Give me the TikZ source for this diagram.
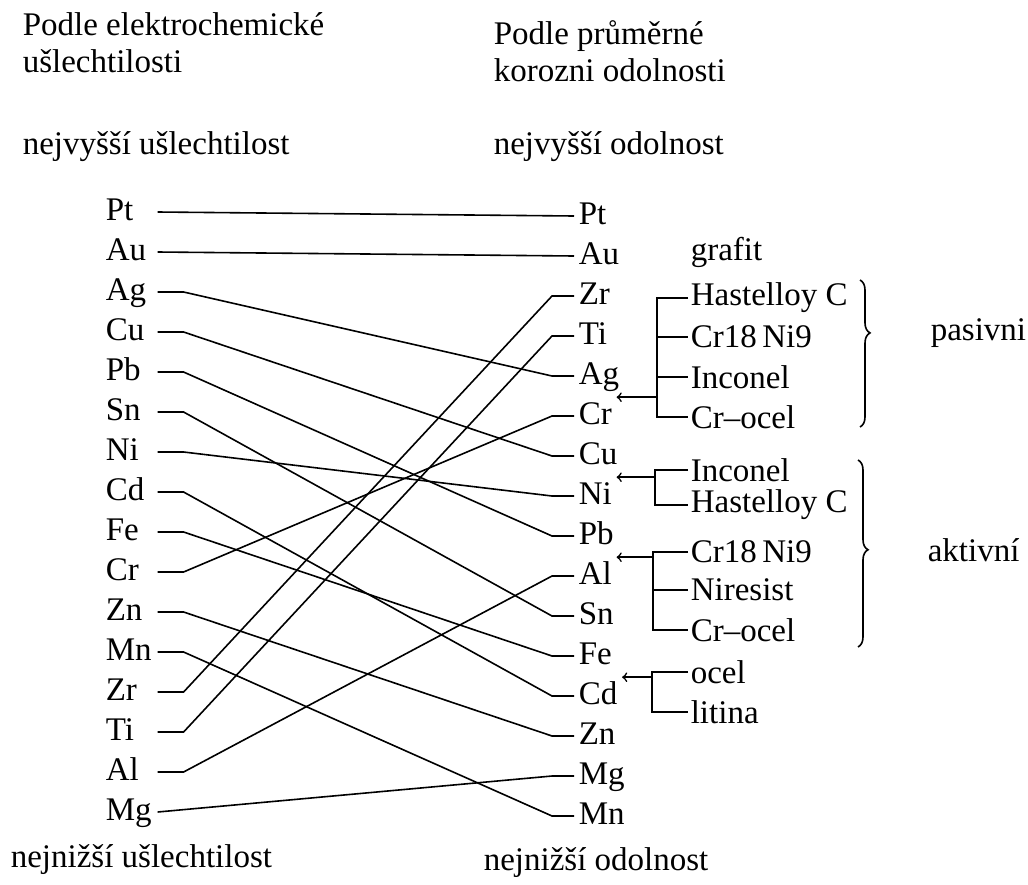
\documentclass[tikz,border=0pt]{standalone}
\usepackage{fontspec}
\setmainfont{Liberation Serif}
\usetikzlibrary{decorations.pathreplacing}
\begin{document}
\begin{tikzpicture}[x=0.5pt,y=-0.5pt,line width=0.8pt,
    every node/.style={font=\fontsize{16.5pt}{18.5pt}\selectfont},
    lmetal/.style={anchor=west,inner xsep=0pt,text width=25.5pt,text height=11pt,text depth=3pt},
    rmetal/.style={anchor=west,inner xsep=2pt,inner ysep=2pt,text height=11pt,text depth=3pt},
    alloy/.style={anchor=west,inner sep=1pt},
    heading/.style={anchor=west,align=left,inner sep=0pt},
    bracket/.style={decorate,decoration={brace,amplitude=5pt,aspect=#1}}]
    \useasboundingbox (0,0) rectangle (1028,884);
    \node[heading] (hl) at (22,43) {Podle elektrochemické\\ušlechtilosti};
    \node[heading] (hr) at (493,51) {Podle průměrné\\korozni odolnosti};
    \node[heading] (tl) at (22,147) {nejvyšší ušlechtilost};
    \node[heading] (tr) at (493,147) {nejvyšší odolnost};
    \node[heading] (bl) at (10,860) {nejnižší ušlechtilost};
    \node[heading] (br) at (483,863) {nejnižší odolnost};
    \foreach \m [count=\i from 0] in {Pt,Au,Ag,Cu,Pb,Sn,Ni,Cd,Fe,Cr,Zn,Mn,Zr,Ti,Al,Mg}
        \node[lmetal] (L\m) at (105,{212+40*\i}) {\m};
    \foreach \m [count=\i from 0] in {Pt,Au,Zr,Ti,Ag,Cr,Cu,Ni,Pb,Al,Sn,Fe,Cd,Zn,Mg,Mn}
        \node[rmetal] (R\m) at (574,{216+40*\i}) {\m};
    \foreach \m in {Pt,Au}
        \draw (L\m.east) -- (R\m.west);
    \foreach \m in {Ag,Cu,Pb,Sn,Ni,Cd,Fe,Cr,Zn,Mn,Zr,Ti,Al}
        \draw (L\m.east) -- ++(26,0) -- ([xshift=-11pt]R\m.west) -- (R\m.west);
    \draw (LMg.east) -- ([xshift=-11pt]RMg.west) -- (RMg.west);
    \node[alloy] (grafit) at (688,252) {grafit};
    \node[alloy] (pa) at (688,298) {Hastelloy C};
    \node[alloy] (pb) at (688,337) {Cr18\,Ni9};
    \node[alloy] (pc) at (688,377) {Inconel};
    \node[alloy] (pd) at (688,417) {Cr--ocel};
    \node[alloy] (aa) at (688,470) {Inconel};
    \node[alloy] (ab) at (688,505) {Hastelloy C};
    \node[alloy] (ac) at (688,552) {Cr18\,Ni9};
    \node[alloy] (ad) at (688,590) {Niresist};
    \node[alloy] (ae) at (688,630) {Cr--ocel};
    \node[alloy] (oa) at (688,672) {ocel};
    \node[alloy] (ob) at (688,712) {litina};
    \draw (pa.west) -- ++(-31,0) coordinate (b1) |- (pd.west);
    \foreach \a in {pb,pc}
        \draw (b1 |- \a.west) -- (\a.west);
    \draw[->] (b1 |- RCr.north east) -- (RCr.north east);
    \draw (aa.west) -- ++(-33,0) coordinate (b2) |- (ab.west);
    \draw[->] (b2 |- RNi.north east) -- (RNi.north east);
    \draw (ac.west) -- ++(-35,0) coordinate (b3) |- (ae.west);
    \draw (b3 |- ad.west) -- (ad.west);
    \draw[->] (b3 |- RAl.north east) -- (RAl.north east);
    \draw (oa.west) -- ++(-36,0) coordinate (b4) |- (ob.west);
    \draw[->] (b4 |- RCd.north east) -- (RCd.north east);
    \draw[bracket=0.36] (860,280) -- (860,427);
    \draw[bracket=0.48] (858,460) -- (858,647);
    \node[heading] (pas) at (930,333) {pasivni};
    \node[heading] (akt) at (927,550) {aktivní};
\end{tikzpicture}
\end{document}
